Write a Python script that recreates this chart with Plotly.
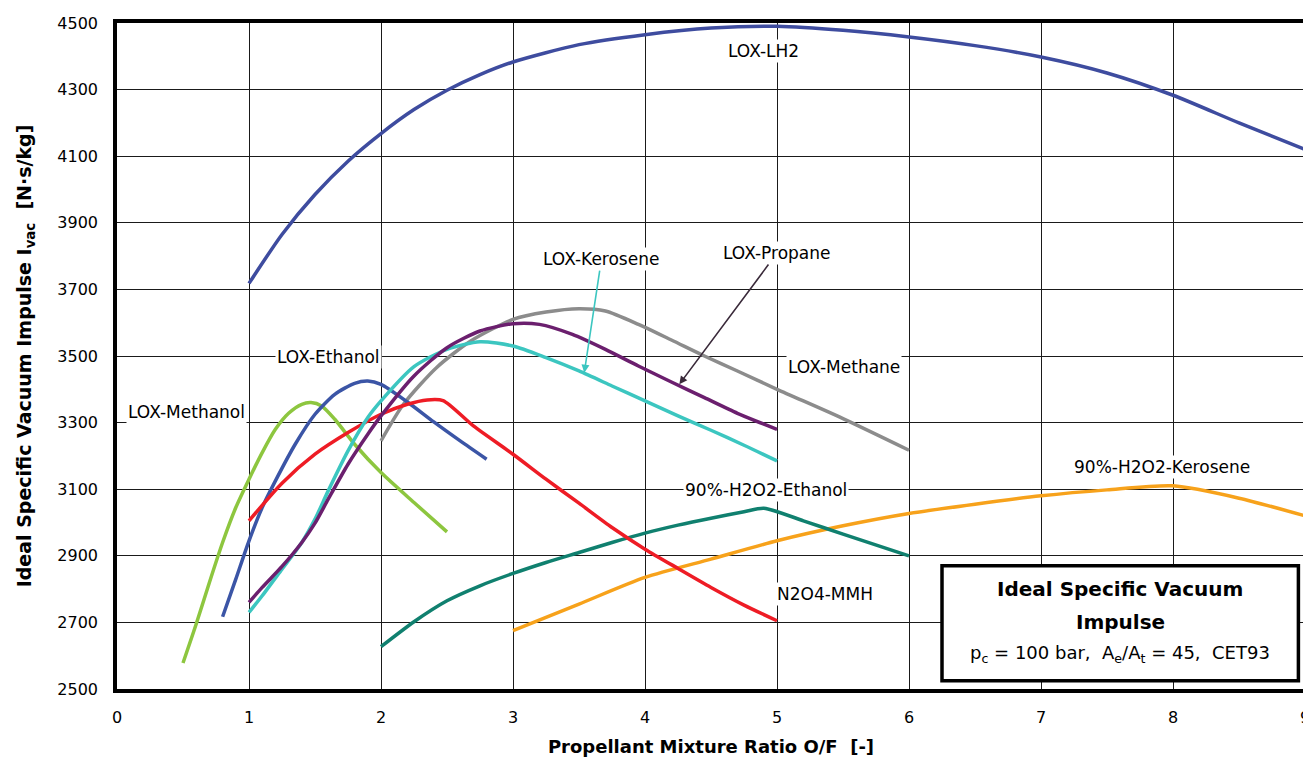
import plotly.graph_objects as go

# ---------------- data ----------------
lh2_x = [1, 1.25, 1.5, 1.75, 2, 2.25, 2.5, 2.75, 3, 3.5, 4, 4.5, 5, 5.5, 6, 6.5, 7, 7.5, 8, 8.5, 9]
lh2_y = [3718, 3865, 3985, 4085, 4168, 4240, 4298, 4345, 4383, 4435, 4465, 4485, 4490, 4478, 4458, 4432, 4398, 4350, 4283, 4200, 4120]

methanol_x = [0.5, 0.6, 0.7, 0.8, 0.9, 1.0, 1.1, 1.2, 1.3, 1.4, 1.47, 1.55, 1.65, 1.8, 2.0, 2.25, 2.5]
methanol_y = [2578, 2695, 2820, 2940, 3045, 3130, 3210, 3280, 3328, 3355, 3360, 3350, 3310, 3235, 3150, 3060, 2972]

ethanol_x = [0.8, 0.9, 1.0, 1.1, 1.2, 1.35, 1.5, 1.65, 1.8, 1.9, 2.0, 2.2, 2.4, 2.6, 2.8]
ethanol_y = [2717, 2830, 2945, 3045, 3125, 3235, 3325, 3385, 3418, 3425, 3415, 3362, 3302, 3245, 3190]

n2o4_x = [1.0, 1.25, 1.5, 1.75, 2.0, 2.2, 2.35, 2.47, 2.7, 3.0, 3.25, 3.5, 3.75, 4.0, 4.25, 4.5, 4.75, 5.0]
n2o4_y = [3005, 3118, 3205, 3270, 3325, 3355, 3368, 3366, 3290, 3205, 3130, 3058, 2985, 2920, 2862, 2805, 2752, 2705]

kerosene_x = [1.0, 1.1, 1.25, 1.4, 1.5, 1.6, 1.75, 1.9, 2.0, 2.25, 2.5, 2.75, 3.0, 3.25, 3.5, 3.75, 4.0, 4.25, 4.5, 4.75, 5.0]
kerosene_y = [2730, 2780, 2860, 2940, 3010, 3095, 3215, 3315, 3365, 3468, 3520, 3543, 3530, 3495, 3455, 3410, 3365, 3320, 3277, 3232, 3185]

propane_x = [1.0, 1.1, 1.25, 1.4, 1.5, 1.6, 1.75, 1.9, 2.0, 2.25, 2.5, 2.75, 3.0, 3.2, 3.45, 3.7, 3.95, 4.2, 4.45, 4.7, 5.0]
propane_y = [2760, 2805, 2868, 2940, 2998, 3070, 3175, 3265, 3320, 3440, 3525, 3575, 3597, 3595, 3565, 3520, 3470, 3422, 3375, 3328, 3280]

methane_x = [2, 2.17, 2.42, 2.68, 3, 3.25, 3.5, 3.7, 3.95, 4.2, 4.45, 4.7, 5, 5.5, 6]
methane_y = [3245, 3355, 3465, 3545, 3610, 3632, 3642, 3635, 3595, 3548, 3500, 3455, 3400, 3312, 3217]

h2o2_eth_x = [2.0, 2.25, 2.5, 2.75, 3.0, 3.25, 3.5, 3.75, 4.0, 4.25, 4.5, 4.75, 4.9, 5.2, 5.5, 6.0]
h2o2_eth_y = [2627, 2702, 2765, 2810, 2847, 2880, 2910, 2940, 2968, 2992, 3013, 3032, 3043, 3005, 2965, 2900]

h2o2_ker_x = [3, 3.5, 4, 4.5, 5, 5.5, 6, 6.5, 7, 7.5, 8, 8.5, 9]
h2o2_ker_y = [2675, 2755, 2835, 2890, 2945, 2990, 3027, 3055, 3080, 3098, 3110, 3073, 3020]

x_ticks = [0, 1, 2, 3, 4, 5, 6, 7, 8, 9]
y_ticks = [2500, 2700, 2900, 3100, 3300, 3500, 3700, 3900, 4100, 4300, 4500]

series = [
    ("LOX-LH2", lh2_x, lh2_y, "#3e4c9f"),
    ("LOX-Methane", methane_x, methane_y, "#8c8c8c"),
    ("90%-H2O2-Kerosene", h2o2_ker_x, h2o2_ker_y, "#f7a21b"),
    ("90%-H2O2-Ethanol", h2o2_eth_x, h2o2_eth_y, "#10806f"),
    ("LOX-Methanol", methanol_x, methanol_y, "#8dc63f"),
    ("LOX-Ethanol", ethanol_x, ethanol_y, "#3b55a6"),
    ("N2O4-MMH", n2o4_x, n2o4_y, "#ee1c25"),
    ("LOX-Kerosene", kerosene_x, kerosene_y, "#3cc6c0"),
    ("LOX-Propane", propane_x, propane_y, "#6b1f6e"),
]

FONT = "DejaVu Sans, Verdana, sans-serif"

fig = go.Figure()
for name, xs, ys, col in series:
    fig.add_trace(go.Scatter(x=xs, y=ys, mode="lines", name=name,
                             line=dict(color=col, width=3.5, shape="spline", smoothing=0.7),
                             showlegend=False))

ann = []
def label(text, x, y, bg=True, size=17):
    d = dict(text=text, x=x, y=y, xref="x", yref="y", showarrow=False,
             font=dict(family=FONT, size=size, color="black"))
    if bg:
        d["bgcolor"] = "white"
    ann.append(d)

label("LOX-LH2", 4.9, 4415)
label("LOX-Methane", 5.51, 3467)
label("LOX-Ethanol", 1.6, 3497)
label("LOX-Methanol", 0.53, 3332)
label("90%-H2O2-Ethanol", 4.92, 3098)
label("90%-H2O2-Kerosene", 7.92, 3167)
label("N2O4-MMH", 5.36, 2785)

# arrow labels
ann.append(dict(text="LOX-Kerosene", x=3.54, y=3450, ax=3.67, ay=3791,
                xref="x", yref="y", axref="x", ayref="y", showarrow=True,
                arrowhead=2, arrowsize=1, arrowwidth=1.6, arrowcolor="#3cc6c0",
                bgcolor="white", font=dict(family=FONT, size=17, color="black")))
ann.append(dict(text="LOX-Propane", x=4.26, y=3415, ax=5.0, ay=3809,
                xref="x", yref="y", axref="x", ayref="y", showarrow=True,
                arrowhead=2, arrowsize=1, arrowwidth=1.6, arrowcolor="#3a2a3a",
                bgcolor="white", font=dict(family=FONT, size=17, color="black")))

# info box
fig.add_shape(type="rect", xref="x", yref="y", x0=6.25, x1=8.95, y0=2525, y1=2870,
              fillcolor="white", line=dict(color="black", width=3.5), layer="above")
ann.append(dict(text="<b>Ideal Specific Vacuum</b>", x=7.6, y=2800, xref="x", yref="y",
                showarrow=False, font=dict(family=FONT, size=20, color="black")))
ann.append(dict(text="<b>Impulse</b>", x=7.6, y=2702, xref="x", yref="y",
                showarrow=False, font=dict(family=FONT, size=20, color="black")))
ann.append(dict(text="p<sub>c</sub> = 100 bar,  A<sub>e</sub>/A<sub>t</sub> = 45,  CET93",
                x=7.6, y=2605, xref="x", yref="y",
                showarrow=False, font=dict(family=FONT, size=18, color="black")))

# page body has an 8px default margin: size/margins chosen so the plot area
# lands at x 117..1305, y 23..689 in the 1311x769 window
fig.update_layout(
    width=1303, height=753,
    margin=dict(l=109, r=6, t=15, b=72, autoexpand=False),
    paper_bgcolor="white", plot_bgcolor="white",
    annotations=ann,
    font=dict(family=FONT, color="black"),
    xaxis=dict(range=[0, 9], tickvals=x_ticks, ticks="", showgrid=True, automargin=False,
               gridcolor="#1a1a1a", gridwidth=1, zeroline=False,
               showline=True, linecolor="black", linewidth=3.5, mirror=True,
               tickfont=dict(size=16, family=FONT), ticklabelstandoff=11,
               ticklabeloverflow="allow",
               title=dict(text="<b>Propellant Mixture Ratio O/F  [-]</b>",
                          font=dict(size=18, family=FONT), standoff=15)),
    yaxis=dict(range=[2500, 4500], tickvals=y_ticks, ticks="", showgrid=True, automargin=False,
               gridcolor="#1a1a1a", gridwidth=1, zeroline=False,
               showline=True, linecolor="black", linewidth=3.5, mirror=True,
               tickfont=dict(size=16, family=FONT), ticklabelstandoff=12,
               ticklabeloverflow="allow",
               title=dict(text="<b>Ideal Specific Vacuum Impulse I<sub>vac</sub>  [N·s/kg]</b>",
                          font=dict(size=19, family=FONT), standoff=22)),
)

fig.write_html("out.html")
